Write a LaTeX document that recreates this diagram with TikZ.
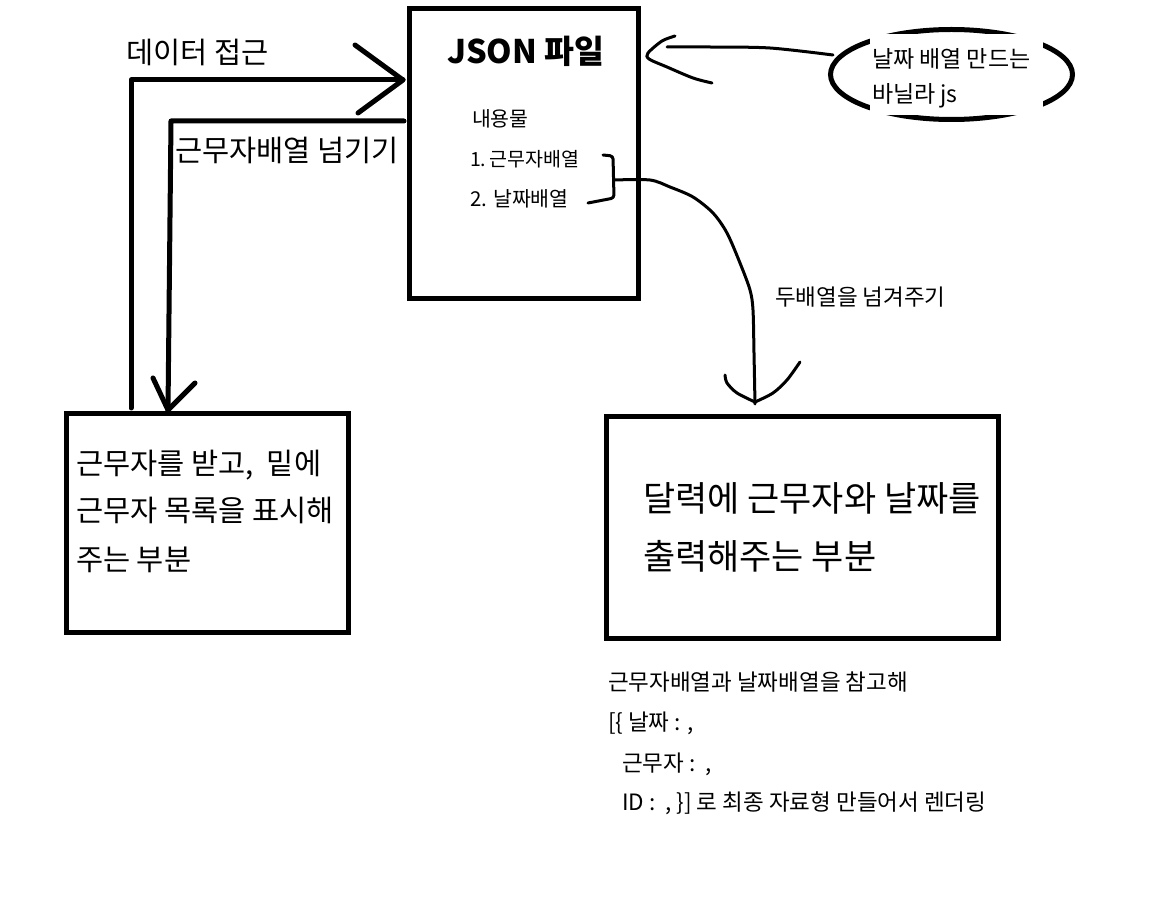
\documentclass[tikz,border=0pt]{standalone}
\usepackage{fontspec}
\setmainfont{Noto Sans CJK KR}
\usetikzlibrary{shapes.geometric}
\begin{document}
\begin{tikzpicture}[x=1pt,y=-1pt,
  box/.style={draw, line width=5pt, inner sep=0pt, outer sep=0pt, anchor=north west},
  lbl/.style={anchor=base west, inner sep=0pt, outer sep=0pt},
  heavy/.style={line width=5pt, line cap=round, line join=round},
  light/.style={line width=3pt, line cap=round, line join=round}]
\useasboundingbox (0,0) rectangle (1152,909);

% JSON box
\node[box, minimum width=229pt, minimum height=290pt] (json) at (409,9) {};
\node[lbl, font=\bfseries\fontsize{32.5}{32.5}\selectfont] (jtitle) at (447,64) {JSON 파일};
\node[lbl, font=\fontsize{20.5}{20.5}\selectfont] (jc0) at (472,127) {내용물};
\node[lbl, font=\fontsize{19.5}{19.5}\selectfont] (jc1) at (470,167) {1.\,근무자배열};
\node[lbl, font=\fontsize{20.5}{20.5}\selectfont] (jc2) at (470,207) {2. 날짜배열};

% left box
\node[box, minimum width=282pt, minimum height=218pt] (left) at (66,414) {};
\node[lbl, font=\fontsize{29.5}{29.5}\selectfont] (l1) at (76,474) {근무자를 받고,~~밑에};
\node[lbl, font=\fontsize{29.5}{29.5}\selectfont] (l2) at (76,521) {근무자 목록을 표시해};
\node[lbl, font=\fontsize{29.5}{29.5}\selectfont] (l3) at (76,570) {주는 부분};

% right box
\node[box, minimum width=392pt, minimum height=221pt] (right) at (606,417) {};
\node[lbl, font=\fontsize{35}{35}\selectfont] (r1) at (643,511) {달력에 근무자와 날짜를};
\node[lbl, font=\fontsize{35}{35}\selectfont] (r2) at (643,569) {출력해주는 부분};

% ellipse
\node[draw, ellipse, line width=5pt, minimum width=242pt, minimum height=90pt, inner sep=0pt, outer sep=0pt] (ell) at (951.5,74.5) {};
\fill[white] (870,34) rectangle (1043,115);
\node[lbl, font=\fontsize{23}{23}\selectfont] (e1) at (872,68) {날짜 배열 만드는};
\node[lbl, font=\fontsize{23}{23}\selectfont] (e2) at (872,103) {바닐라 js};

% connector labels
\node[lbl, font=\fontsize{29.5}{29.5}\selectfont] (t1) at (126,64) {데이터 접근};
\node[lbl, font=\fontsize{29.5}{29.5}\selectfont] (t2) at (175,162) {근무자배열 넘기기};
\node[lbl, font=\fontsize{22.5}{22.5}\selectfont] (t3) at (775,306) {두배열을 넘겨주기};

% bottom notes
\node[lbl, font=\fontsize{22.5}{22.5}\selectfont] (n1) at (608,690) {근무자배열과 날짜배열을 참고해};
\node[lbl, font=\fontsize{22.5}{22.5}\selectfont] (n2) at (608,730) {[\{ 날짜 : ,};
\node[lbl, font=\fontsize{22.5}{22.5}\selectfont] (n3) at (622,771) {근무자 :~~,};
\node[lbl, font=\fontsize{22.5}{22.5}\selectfont] (n4) at (622,810) {ID :~~, \}] 로 최종 자료형 만들어서 렌더링};

% coordinates for connectors
\coordinate (a1s) at (131,408);
\coordinate (a1c) at (131,80);
\coordinate (a1e) at (403,80);
\coordinate (a2s) at (404,121);
\coordinate (a2c) at (171,121);
\coordinate (a2e) at (168,410);

% data access arrow
\draw[heavy] (a1s) -- (a1c) -- (a1e);
\draw[heavy] (355,45) -- (a1e) -- (358,113);
% worker array arrow
\draw[heavy] (a2s) -- (a2c) -- (a2e);
\draw[heavy] (153,378) -- (a2e) -- (195,383);

% bracket and curved arrow
\coordinate (bm) at (614,180);
\draw[light, rounded corners=3pt] (603,155) -- (613,156) -- (614,198) -- (588,203);
\coordinate (cend) at (755,404);
\draw[light] plot[smooth] coordinates {(bm) (650,180) (670,187) (693,197) (713,213) (727,233) (740,263) (750,290) (753,310) (754,353) (cend)};
\draw[light] plot[smooth] coordinates {(725,375) (727,383) (737,393) (755,402)};
\draw[light] plot[smooth] coordinates {(755,402) (773,393) (787,380) (800,362)};

% ellipse arrow
\coordinate (es) at (833,55);
\coordinate (ee) at (667,47);
\draw[light] plot[smooth] coordinates {(es) (770,48) (710,47) (ee)};
\draw[light] plot[smooth] coordinates {(675,36) (662,41) (648,53) (649,59) (667,67) (693,78) (712,83)};
\end{tikzpicture}
\end{document}
